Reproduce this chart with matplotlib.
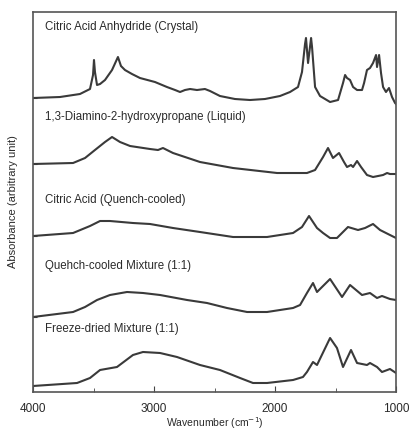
import matplotlib
matplotlib.use("Agg")
import matplotlib.pyplot as plt
from matplotlib.ticker import MultipleLocator

# FTIR spectra (wavenumber in cm-1, stacked absorbance in arbitrary units)
wn_anhydride = [4000, 3777, 3612, 3529, 3504, 3496, 3488, 3471, 3446, 3405, 3347, 3298, 3273, 3240,
                3182, 3116, 2992, 2893, 2826, 2785, 2744, 2702, 2645, 2579, 2537, 2455, 2331, 2207,
                2083, 1959, 1876, 1810, 1777, 1752, 1744, 1727, 1702, 1694, 1669, 1628, 1545, 1479,
                1438, 1421, 1405, 1380, 1355, 1322, 1281, 1264, 1240, 1215, 1190, 1165, 1157, 1140,
                1124, 1107, 1083, 1058, 1033, 1008, 1000]
abs_anhydride = [294, 295, 298, 303, 317, 332, 320, 307, 308, 312, 322, 335, 326, 322,
                 318, 314, 310, 305, 302, 300, 302, 303, 302, 303, 301, 296, 293, 292,
                 293, 296, 300, 305, 320, 348, 354, 329, 354, 345, 305, 296, 290, 292,
                 309, 317, 314, 312, 305, 302, 302, 309, 322, 324, 329, 337, 325, 337,
                 319, 305, 300, 304, 295, 289, 288]

wn_diamino = [4000, 3669, 3570, 3488, 3405, 3347, 3281, 3198, 3033, 2967, 2926, 2843, 2620, 2347,
              1983, 1736, 1669, 1603, 1562, 1521, 1471, 1430, 1405, 1372, 1355, 1322, 1289, 1240,
              1190, 1107, 1074, 1050, 1000]
abs_diamino = [228, 229, 234, 242, 250, 255, 250, 246, 243, 242, 244, 239, 230, 224,
               219, 219, 222, 235, 244, 234, 239, 230, 225, 227, 225, 231, 225, 217,
               215, 217, 219, 218, 218]

wn_citric = [4000, 3669, 3529, 3446, 3364, 3174, 3033, 2843, 2620, 2347, 2066, 1851, 1777, 1719,
             1653, 1603, 1545, 1488, 1397, 1314, 1256, 1190, 1132, 1050, 1000]
abs_citric = [156, 159, 166, 171, 171, 169, 168, 164, 160, 155, 155, 159, 165, 176,
              164, 159, 154, 154, 165, 162, 164, 168, 162, 157, 154]

wn_quench = [4000, 3669, 3570, 3471, 3364, 3223, 3091, 2950, 2727, 2562, 2397, 2231, 2066, 1851,
             1793, 1736, 1686, 1653, 1545, 1446, 1380, 1281, 1215, 1157, 1116, 1050, 1000]
abs_quench = [75, 80, 85, 92, 97, 100, 99, 97, 92, 89, 84, 80, 80, 84,
              87, 99, 109, 100, 113, 95, 107, 97, 99, 94, 96, 93, 92]

wn_freeze = [4000, 3636, 3529, 3446, 3306, 3174, 3091, 2950, 2810, 2620, 2455, 2289, 2182, 2066,
             1851, 1769, 1736, 1686, 1653, 1545, 1488, 1438, 1372, 1322, 1240, 1215, 1157, 1116,
             1050, 1000]
abs_freeze = [6, 9, 14, 22, 25, 37, 40, 39, 35, 27, 22, 14, 9, 9,
              12, 15, 20, 30, 27, 54, 44, 25, 42, 29, 27, 29, 25, 20,
              23, 19]

labels = ["Citric Acid Anhydride (Crystal)",
          "1,3-Diamino-2-hydroxypropane (Liquid)",
          "Citric Acid (Quench-cooled)",
          "Quehch-cooled Mixture (1:1)",
          "Freeze-dried Mixture (1:1)"]
label_heights = [365, 275, 192, 126, 63]
baselines = [294, 228, 156, 75]

plt.rcParams['font.family'] = ['Liberation Sans', 'DejaVu Sans']

fig = plt.figure(figsize=(4.1, 4.32), dpi=100)
ax = fig.add_axes([0.0805, 0.0926, 0.8854, 0.8796])

line_col = '#3a3a3a'
txt_col = '#2a2a2a'
spectra = [(wn_anhydride, abs_anhydride), (wn_diamino, abs_diamino), (wn_citric, abs_citric),
           (wn_quench, abs_quench), (wn_freeze, abs_freeze)]
for (wn, ab), lab, lh in zip(spectra, labels, label_heights):
    ax.plot(wn, ab, color=line_col, lw=1.5, solid_joinstyle='round')
    ax.text(3905, lh, lab, fontsize=8.3, color=txt_col, va='center', ha='left')

ax.set_xlim(4000, 1000)
ax.set_ylim(0, 380)
ax.set_xticks([4000, 3000, 2000, 1000])
ax.xaxis.set_minor_locator(MultipleLocator(500))
ax.set_yticks(baselines)
ax.set_yticklabels([])
ax.tick_params(axis='both', which='both', direction='in', color='#444444')
ax.tick_params(axis='x', which='major', length=4, labelsize=8.5, pad=8, labelcolor=txt_col)
ax.tick_params(axis='x', which='minor', length=3)
ax.tick_params(axis='y', length=3)
for sp in ax.spines.values():
    sp.set_color('#555555')
    sp.set_linewidth(1.2)

ax.set_xlabel("Wavenumber (cm$^{-1}$)", fontsize=7.5, color=txt_col, labelpad=0)
ax.set_ylabel("Absorbance (arbitrary unit)", fontsize=8, color=txt_col, labelpad=7)

fig.savefig("out.png", dpi=100)
